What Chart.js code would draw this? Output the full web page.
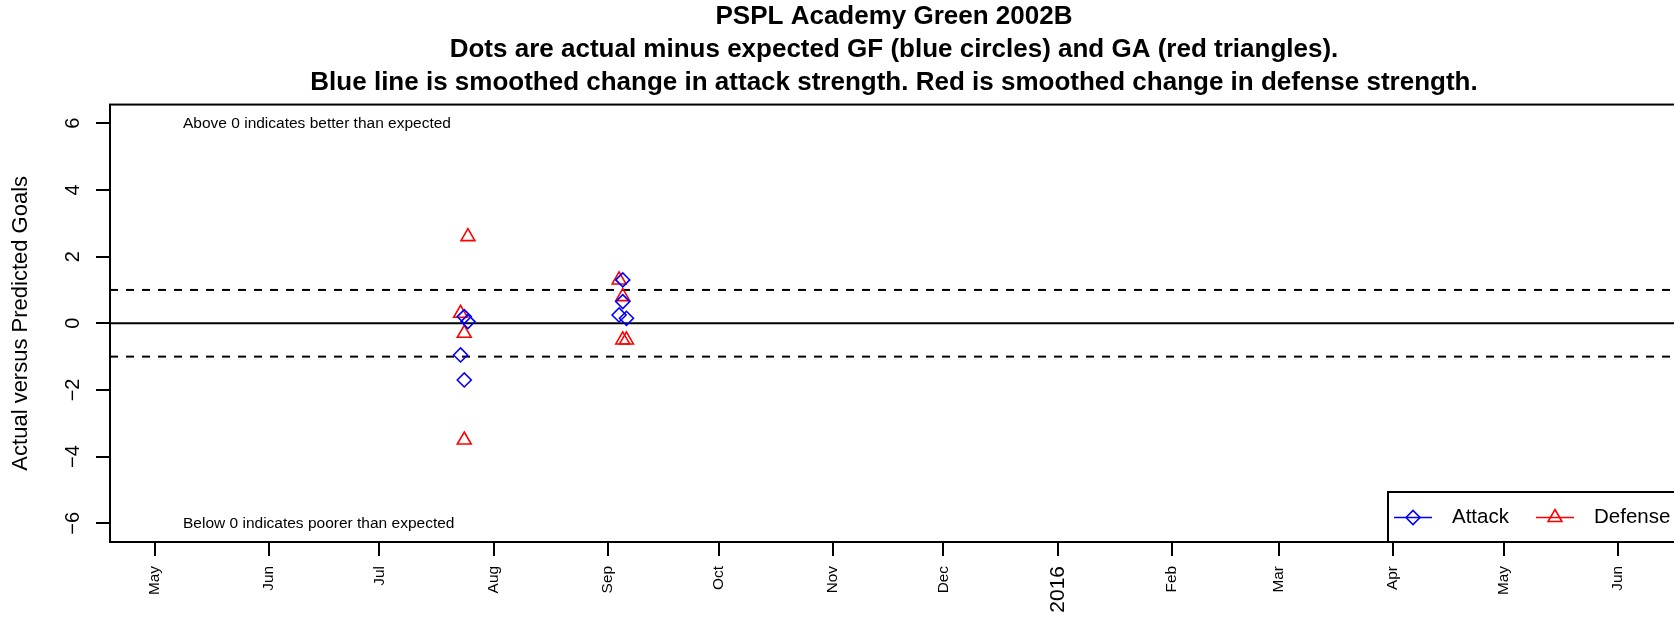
<!DOCTYPE html>
<html>
<head>
<meta charset="utf-8">
<script src="https://cdn.jsdelivr.net/npm/chart.js@4/dist/chart.umd.min.js"></script>
<style>
  html, body { margin: 0; padding: 0; background: #fff; overflow: hidden; }
  #wrap { width: 1700px; height: 617px; }
</style>
</head>
<body>
<div id="wrap"><canvas id="myChart" width="1700" height="617"></canvas></div>
<script>
// game dates as days since 1 May 2015, values are actual minus expected
const attackDays = [83, 84, 84, 85, 126, 127, 127, 128];
const attackVals = [-0.95, 0.2, -1.7, 0.05, 0.25, 1.3, 0.65, 0.15];
const defenseDays = [83, 84, 84, 85, 126, 127, 127, 128];
const defenseVals = [0.3, -0.3, -3.5, 2.6, 1.3, 0.8, -0.5, -0.5];

// month ticks (days since 1 May 2015)
const tickDays = [0, 31, 61, 92, 123, 153, 184, 214, 245, 276, 305, 336, 366, 397];
const tickLabels = ["May", "Jun", "Jul", "Aug", "Sep", "Oct", "Nov", "Dec", "2016", "Feb", "Mar", "Apr", "May", "Jun"];
const yTicks = [-6, -4, -2, 0, 2, 4, 6];
const refLevels = [1, 0, -1];

const titleLines = [
  "PSPL Academy Green 2002B",
  "Dots are actual minus expected GF (blue circles) and GA (red triangles).",
  "Blue line is smoothed change in attack strength. Red is smoothed change in defense strength."
];

const FONT = "'Liberation Sans', Arial, sans-serif";

const toPoints = (xs, ys) => xs.map((x, i) => ({ x: x, y: ys[i] }));

// extra drawing: box, reference lines, y labels, notes, legend
const extras = {
  id: "extras",
  beforeDatasetsDraw(chart) {
    const { ctx, chartArea: a, scales } = chart;
    ctx.save();
    ctx.strokeStyle = "#000";
    ctx.lineWidth = 2;
    refLevels.forEach((lv) => {
      const y = scales.y.getPixelForValue(lv);
      ctx.setLineDash(lv === 0 ? [] : [8, 8]);
      ctx.beginPath();
      ctx.moveTo(a.left, y);
      ctx.lineTo(a.right, y);
      ctx.stroke();
    });
    ctx.restore();
  },
  afterDraw(chart) {
    const { ctx, chartArea: a, scales } = chart;
    ctx.save();
    // plot box
    ctx.strokeStyle = "#000";
    ctx.lineWidth = 2;
    ctx.strokeRect(a.left, a.top, a.right - a.left, a.bottom - a.top);

    // y tick labels (rotated like R)
    ctx.fillStyle = "#000";
    ctx.font = "20px " + FONT;
    ctx.textAlign = "center";
    ctx.textBaseline = "middle";
    yTicks.forEach((v) => {
      const y = scales.y.getPixelForValue(v);
      ctx.save();
      ctx.translate(a.left - 37, y);
      ctx.rotate(-Math.PI / 2);
      ctx.fillText(v < 0 ? "\u2212" + Math.abs(v) : String(v), 0, 0);
      ctx.restore();
    });

    // y axis title
    ctx.save();
    ctx.font = "22px " + FONT;
    ctx.translate(a.left - 89, (a.top + a.bottom) / 2);
    ctx.rotate(-Math.PI / 2);
    ctx.fillText("Actual versus Predicted Goals", 0, 0);
    ctx.restore();

    // notes
    ctx.font = "15.5px " + FONT;
    ctx.textAlign = "left";
    ctx.fillText("Above 0 indicates better than expected", a.left + 73, scales.y.getPixelForValue(6));
    ctx.fillText("Below 0 indicates poorer than expected", a.left + 73, scales.y.getPixelForValue(-6));

    // legend, bottom right
    const bx = a.right - 292, by = a.bottom - 50;
    ctx.fillStyle = "#fff";
    ctx.fillRect(bx, by, a.right - bx, a.bottom - by);
    ctx.strokeStyle = "#000";
    ctx.lineWidth = 2;
    ctx.strokeRect(bx, by, a.right - bx, a.bottom - by);
    const ly = by + 25.5;
    const items = [
      { c: "#0000FF", s: "rectRot", r: 7, x0: 6, t: "Attack" },
      { c: "#FF0000", s: "triangle", r: 8, x0: 148, t: "Defense" }
    ];
    ctx.font = "20.5px " + FONT;
    ctx.textBaseline = "middle";
    items.forEach((it) => {
      ctx.strokeStyle = it.c;
      ctx.lineWidth = 1.6;
      ctx.beginPath();
      ctx.moveTo(bx + it.x0, ly);
      ctx.lineTo(bx + it.x0 + 38, ly);
      ctx.stroke();
      ctx.fillStyle = "rgba(0,0,0,0)";
      Chart.helpers.drawPoint(ctx, { pointStyle: it.s, radius: it.r, rotation: 0, borderWidth: 1.6 }, bx + it.x0 + 19, ly);
      ctx.fillStyle = "#000";
      ctx.fillText(it.t, bx + it.x0 + 58, ly);
    });
    ctx.restore();
  }
};

const ctx = document.getElementById("myChart");

new Chart(ctx, {
  type: "scatter",
  data: {
    datasets: [
      {
        label: "Attack",
        data: toPoints(attackDays, attackVals),
        pointStyle: "rectRot",
        pointRadius: 7,
        pointHoverRadius: 7,
        borderColor: "#0000FF",
        backgroundColor: "rgba(0,0,0,0)",
        pointBorderWidth: 1.6,
      },
      {
        label: "Defense",
        data: toPoints(defenseDays, defenseVals),
        pointStyle: "triangle",
        pointRadius: 8,
        pointHoverRadius: 8,
        borderColor: "#FF0000",
        backgroundColor: "rgba(0,0,0,0)",
        pointBorderWidth: 1.6,
      },
    ],
  },
  options: {
    responsive: false,
    animation: false,
    devicePixelRatio: 1,
    layout: { padding: { left: 108, right: 20, top: 0, bottom: 0 } },
    plugins: {
      legend: { display: false },
      tooltip: { enabled: false },
      title: {
        display: true,
        text: titleLines,
        color: "#000",
        font: { family: FONT, size: 26, weight: "bold", lineHeight: 1.27 },
        padding: { top: 0, bottom: 5.5 },
      },
    },
    scales: {
      x: {
        type: "linear",
        min: -12.1,
        max: 413.8,
        afterBuildTicks: (scale) => {
          scale.ticks = tickDays.map((d) => ({ value: d }));
        },
        afterFit: (scale) => {
          scale.height = 75;
        },
        grid: { drawOnChartArea: false, color: "#000", tickLength: 14, lineWidth: 2 },
        border: { display: true, color: "#000", width: 2 },
        ticks: {
          autoSkip: false,
          minRotation: 90,
          maxRotation: 90,
          padding: 10,
          color: "#000",
          font: (c) => ({ family: FONT, size: tickLabels[c.index] === "2016" ? 21 : 15.4 }),
          callback: (value, index) => tickLabels[index],
        },
      },
      y: {
        min: -6.56,
        max: 6.56,
        afterBuildTicks: (scale) => {
          scale.ticks = yTicks.map((v) => ({ value: v }));
        },
        afterFit: (scale) => {
          scale.width = 2;
        },
        grid: { drawOnChartArea: false, color: "#000", tickLength: 14, lineWidth: 2 },
        border: { display: true, color: "#000", width: 2 },
        ticks: { display: false },
      },
    },
  },
  plugins: [extras],
});
</script>
</body>
</html>
